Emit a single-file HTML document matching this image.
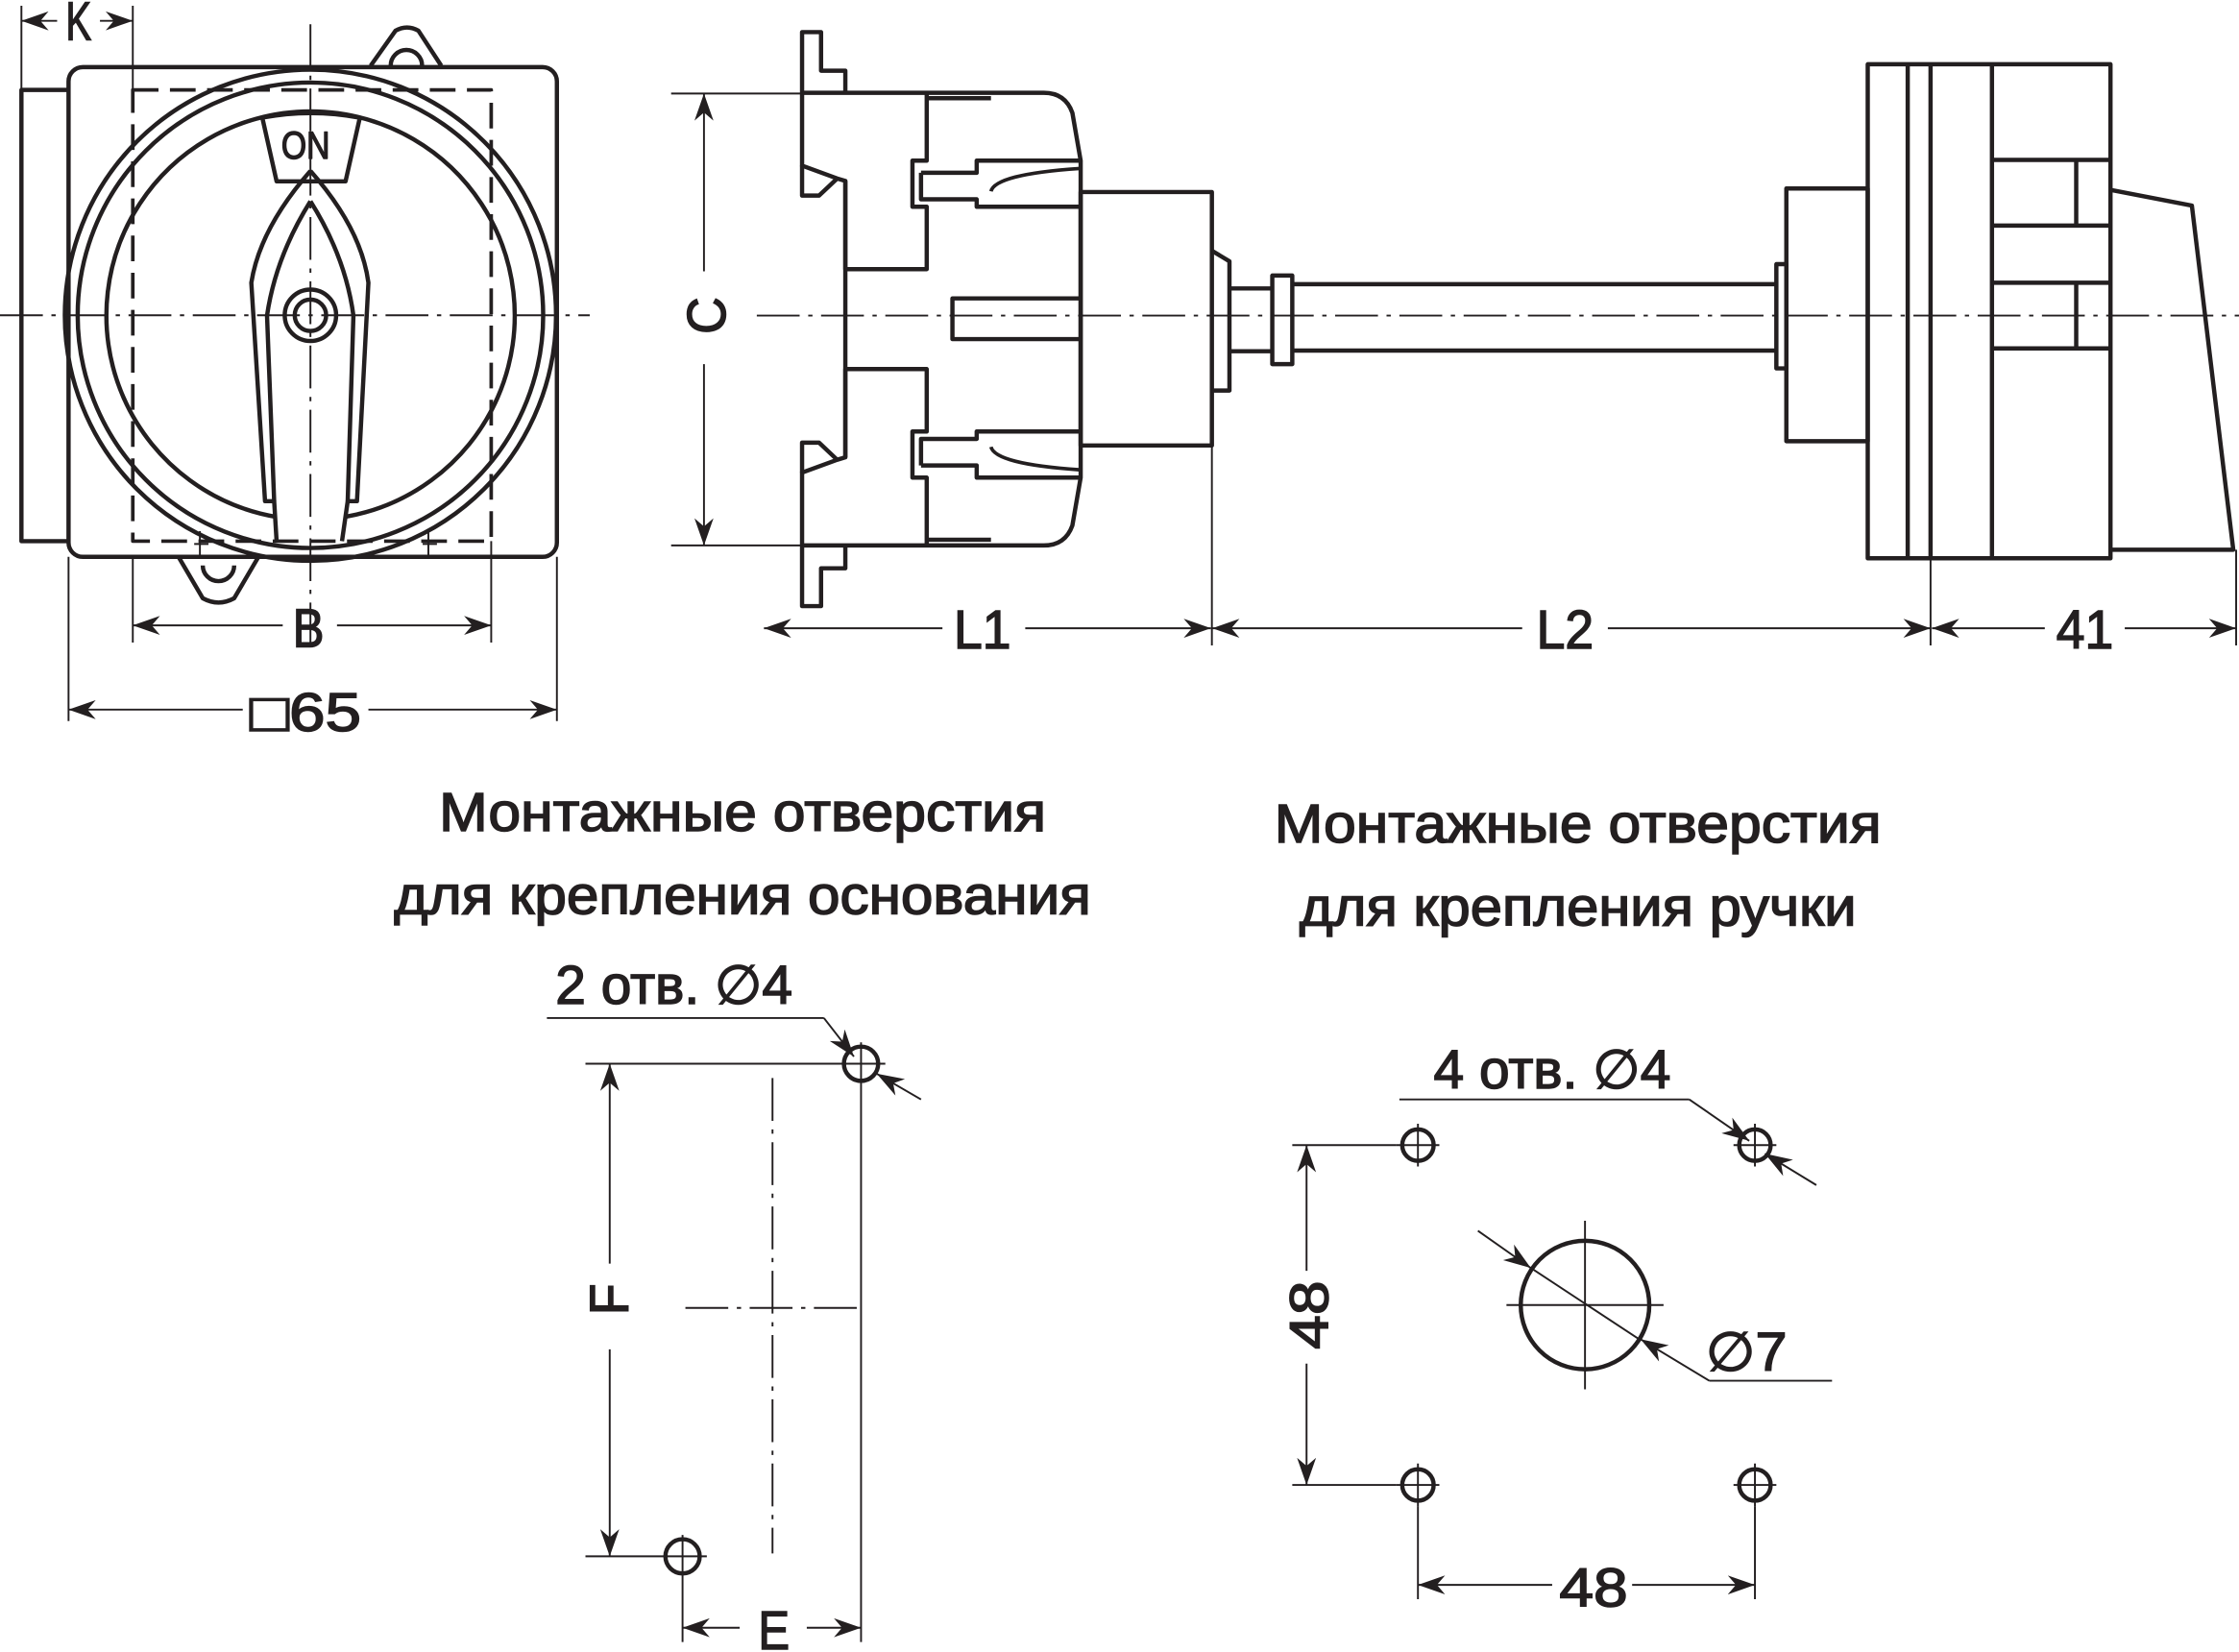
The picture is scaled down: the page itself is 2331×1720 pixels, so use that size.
<!DOCTYPE html>
<html><head><meta charset="utf-8"><style>html,body{margin:0;padding:0;background:#fff}svg{display:block}</style></head>
<body>
<svg xmlns="http://www.w3.org/2000/svg" width="2331" height="1720" viewBox="0 0 1568 1157">
<defs>
<marker id="a" viewBox="0 0 10 10" refX="10" refY="5" markerWidth="19" markerHeight="19" markerUnits="userSpaceOnUse" orient="auto-start-reverse"><path d="M0,1.5 L10,5 L0,8.5 L3,5 z" fill="#231f20"/></marker>
</defs>
<g fill="none" stroke="#231f20" stroke-linejoin="round">
<!-- LEFT VIEW -->
<g stroke-width="3">
<rect x="48" y="47" width="342" height="343" rx="10"/>
<polyline points="48,63 15,63 15,379 48,379"/>
<path d="M259.6,46 L277,21.5 Q285,17 293,21.5 L309,46"/>
<path d="M273.6,46 A11,11 0 0 1 295.6,46"/>
<path d="M125,390 L142,419 Q153,425 164,419 L181,390"/>
<path d="M142,396 A11,11 0 0 0 164,396"/>
<circle cx="217.4" cy="220.8" r="172"/>
<circle cx="217.4" cy="220.8" r="163"/>
<path d="M193.5,362 A143,143 0 1 1 241.5,362"/>
<path d="M183.7,82.4 Q217.4,76 252,82.4 L242,127 L193.7,127 Z" fill="#fff"/>
<path d="M217.4,119.7 Q182,160 176,198 L185.6,351 L192,351 L193.7,379 M217.4,119.7 Q253,160 258,198 L250,351 L243.5,351 L239.5,379"/>
<path d="M217.4,141 Q193,180 187,221 L192,351 M217.4,141 Q242,180 247.5,221 L243.5,351"/>
<circle cx="217.4" cy="220.8" r="18"/>
<circle cx="217.4" cy="220.8" r="11"/>
</g>
<text x="214" y="111" font-family="Liberation Sans, sans-serif" font-size="27" fill="#231f20" stroke="#231f20" stroke-width="1" text-anchor="middle" textLength="34" lengthAdjust="spacingAndGlyphs">ON</text>
<g stroke-width="2.5" stroke-dasharray="18,8">
<rect x="93" y="63" width="251" height="316"/>
</g>
<g stroke-width="1.3">
<path d="M140,372 V390 M300,372 V390 M136,381 H146 M296,381 H306"/>
<line x1="0" y1="220.8" x2="413" y2="220.8" stroke-dasharray="30,6,3,6"/>
<line x1="217.4" y1="17" x2="217.4" y2="455" stroke-dasharray="30,6,3,6"/>
<path d="M15,4 V63 M93,4 V63 M93,390 V450 M344,379 V450 M48,390 V505 M390,390 V505"/>
<line x1="15" y1="14.6" x2="40" y2="14.6" marker-start="url(#a)"/>
<line x1="70" y1="14.6" x2="93" y2="14.6" marker-end="url(#a)"/>
<line x1="93" y1="438" x2="198" y2="438" marker-start="url(#a)"/>
<line x1="236" y1="438" x2="344" y2="438" marker-end="url(#a)"/>
<line x1="48" y1="497" x2="170" y2="497" marker-start="url(#a)"/>
<line x1="258" y1="497" x2="390" y2="497" marker-end="url(#a)"/>
</g>
<!-- MIDDLE VIEW -->
<g stroke-width="3">
<path d="M592,65 V49.5 H575 V22.5 H561.7 V116 L586.3,125 L592,126.7 V188.5 H649 V144.8 H639 V112.5 H649 V65"/>
<path d="M561.7,116 V137 H573.6 L586.3,125"/>
<path d="M592,382 V398 H575 V424.5 H561.7 V331 L586.3,322 L592,320.3 V258.5 H649 V302.2 H639 V334.5 H649 V382"/>
<path d="M561.7,331 V310 H573.6 L586.3,322"/>
<path d="M592,126.7 V320.3"/>
<path d="M561.7,65 H731 Q746,65 751,79 L756.8,112.5 V334.5 L751,368 Q746,382 731,382 H561.7"/>
<path d="M649,68.8 H694 M649,378 H694"/>
<path d="M645,121 H684 V112.5 H756.8 M645,121 V139.6 H684 V144.8 H756.8"/>
<path d="M645,326 H684 V334.5 H756.8 M645,326 V307.4 H684 V302.2 H756.8"/>
<path d="M694,134 Q697,122 756,118 M694,313 Q697,325 756,329" stroke-width="2.5"/>
<path d="M756.8,209 H667 V237.5 H756.8"/>
<rect x="756.8" y="134.5" width="91.9" height="177.5"/>
<path d="M848.7,175.6 L861,183 V273.5 H848.7"/>
<path d="M861,202 H891 M861,246 H891"/>
<rect x="891" y="193" width="14" height="62"/>
<path d="M905,199 H1244 M905,245.5 H1244"/>
<rect x="1244" y="185" width="7" height="73"/>
<rect x="1251" y="132" width="57" height="177"/>
<rect x="1308" y="45" width="170" height="346"/>
<path d="M1336,45 V391 M1352,45 V391 M1395,45 V391"/>
<path d="M1395,112 H1478 M1395,158 H1478 M1454,112 V158 M1395,198 H1478 M1395,244 H1478 M1454,198 V244"/>
<path d="M1478,133 L1535,144 L1564,385 H1478"/>
</g>
<g stroke-width="1.3">
<line x1="530" y1="221" x2="1568" y2="221" stroke-dasharray="30,6,3,6"/>
<path d="M470,65.5 H561 M470,382 H561"/>
<line x1="493" y1="65.5" x2="493" y2="190" marker-start="url(#a)"/>
<line x1="493" y1="255" x2="493" y2="382" marker-end="url(#a)"/>
<path d="M848.7,312 V452 M1352,391 V452 M1566,385 V452"/>
<line x1="535" y1="440" x2="660" y2="440" marker-start="url(#a)"/>
<line x1="718" y1="440" x2="848" y2="440" marker-end="url(#a)"/>
<line x1="849" y1="440" x2="1066" y2="440" marker-start="url(#a)"/>
<line x1="1126" y1="440" x2="1352" y2="440" marker-end="url(#a)"/>
<line x1="1353" y1="440" x2="1432" y2="440" marker-start="url(#a)"/>
<line x1="1488" y1="440" x2="1566" y2="440" marker-end="url(#a)"/>
</g>
<!-- BOTTOM LEFT -->
<g stroke-width="3">
<circle cx="603" cy="745" r="12"/>
<circle cx="478" cy="1090" r="12"/>
</g>
<g stroke-width="1.3">
<path d="M383,713 H577"/>
<line x1="577" y1="713" x2="598" y2="740" marker-end="url(#a)"/>
<line x1="645" y1="770" x2="614" y2="752" marker-end="url(#a)"/>
<path d="M410,745 H620 M410,1090 H495 M603,730 V1150 M478,1075 V1150"/>
<line x1="541" y1="755" x2="541" y2="1088" stroke-dasharray="30,6,3,6"/>
<line x1="480" y1="916" x2="603" y2="916" stroke-dasharray="30,6,3,6"/>
<line x1="427" y1="745" x2="427" y2="885" marker-start="url(#a)"/>
<line x1="427" y1="945" x2="427" y2="1090" marker-end="url(#a)"/>
<line x1="478" y1="1140" x2="518" y2="1140" marker-start="url(#a)"/>
<line x1="565" y1="1140" x2="603" y2="1140" marker-end="url(#a)"/>
</g>
<!-- BOTTOM RIGHT -->
<g stroke-width="3">
<circle cx="993" cy="802" r="11"/><circle cx="1229" cy="802" r="11"/>
<circle cx="993" cy="1040" r="11"/><circle cx="1229" cy="1040" r="11"/>
<circle cx="1110" cy="914" r="45"/>
</g>
<g stroke-width="1.3">
<path d="M978,802 H1008 M993,787 V817 M1214,802 H1244 M1229,787 V817 M978,1040 H1008 M993,1025 V1055 M1214,1040 H1244 M1229,1025 V1055"/>
<path d="M1055,914 H1165 M1110,855 V973"/>
<path d="M905,802 H978 M905,1040 H978 M993,1055 V1120 M1229,1055 V1120"/>
<path d="M980,770 H1183"/>
<line x1="1183" y1="770" x2="1225" y2="799" marker-end="url(#a)"/>
<line x1="1272" y1="830" x2="1236" y2="808" marker-end="url(#a)"/>
<line x1="1035" y1="862" x2="1072" y2="888" marker-end="url(#a)"/>
<line x1="1072" y1="888" x2="1148" y2="938"/>
<line x1="1197" y1="967" x2="1149" y2="938" marker-end="url(#a)"/>
<path d="M1197,967 H1283"/>
<line x1="915" y1="802" x2="915" y2="890" marker-start="url(#a)"/>
<line x1="915" y1="955" x2="915" y2="1040" marker-end="url(#a)"/>
<line x1="993" y1="1110" x2="1087" y2="1110" marker-start="url(#a)"/>
<line x1="1143" y1="1110" x2="1229" y2="1110" marker-end="url(#a)"/>
</g>
</g>
<g font-family="Liberation Sans, sans-serif" fill="#231f20" stroke="#231f20" stroke-width="1" font-size="38" text-anchor="middle">
<text x="55" y="28" textLength="18" lengthAdjust="spacingAndGlyphs">K</text>
<text x="216" y="453" textLength="22" lengthAdjust="spacingAndGlyphs">B</text>
<text x="214" y="512" textLength="78" lengthAdjust="spacingAndGlyphs">□65</text>
<text x="688" y="454" textLength="40" lengthAdjust="spacingAndGlyphs">L1</text>
<text x="1096" y="454" textLength="40" lengthAdjust="spacingAndGlyphs">L2</text>
<text x="1460" y="454" textLength="40" lengthAdjust="spacingAndGlyphs">41</text>
<text transform="translate(508,221) rotate(-90)" textLength="26" lengthAdjust="spacingAndGlyphs">C</text>
<text transform="translate(440,910) rotate(-90)" textLength="22" lengthAdjust="spacingAndGlyphs">F</text>
<text x="542" y="1155" textLength="22" lengthAdjust="spacingAndGlyphs">E</text>
<text transform="translate(930,921) rotate(-90)" textLength="48" lengthAdjust="spacingAndGlyphs">48</text>
<text x="1116" y="1125" textLength="48" lengthAdjust="spacingAndGlyphs">48</text>
<text x="472" y="703" textLength="166" lengthAdjust="spacingAndGlyphs">2 отв. ∅4</text>
<text x="1087" y="762" textLength="166" lengthAdjust="spacingAndGlyphs">4 отв. ∅4</text>
<text x="1223" y="960" textLength="57" lengthAdjust="spacingAndGlyphs">∅7</text>
<text x="520" y="582" textLength="425" lengthAdjust="spacingAndGlyphs">Монтажные отверстия</text>
<text x="520" y="640" textLength="488" lengthAdjust="spacingAndGlyphs">для крепления основания</text>
<text x="1105" y="590" textLength="425" lengthAdjust="spacingAndGlyphs">Монтажные отверстия</text>
<text x="1105" y="648" textLength="390" lengthAdjust="spacingAndGlyphs">для крепления ручки</text>
</g>
</svg>
</body></html>
